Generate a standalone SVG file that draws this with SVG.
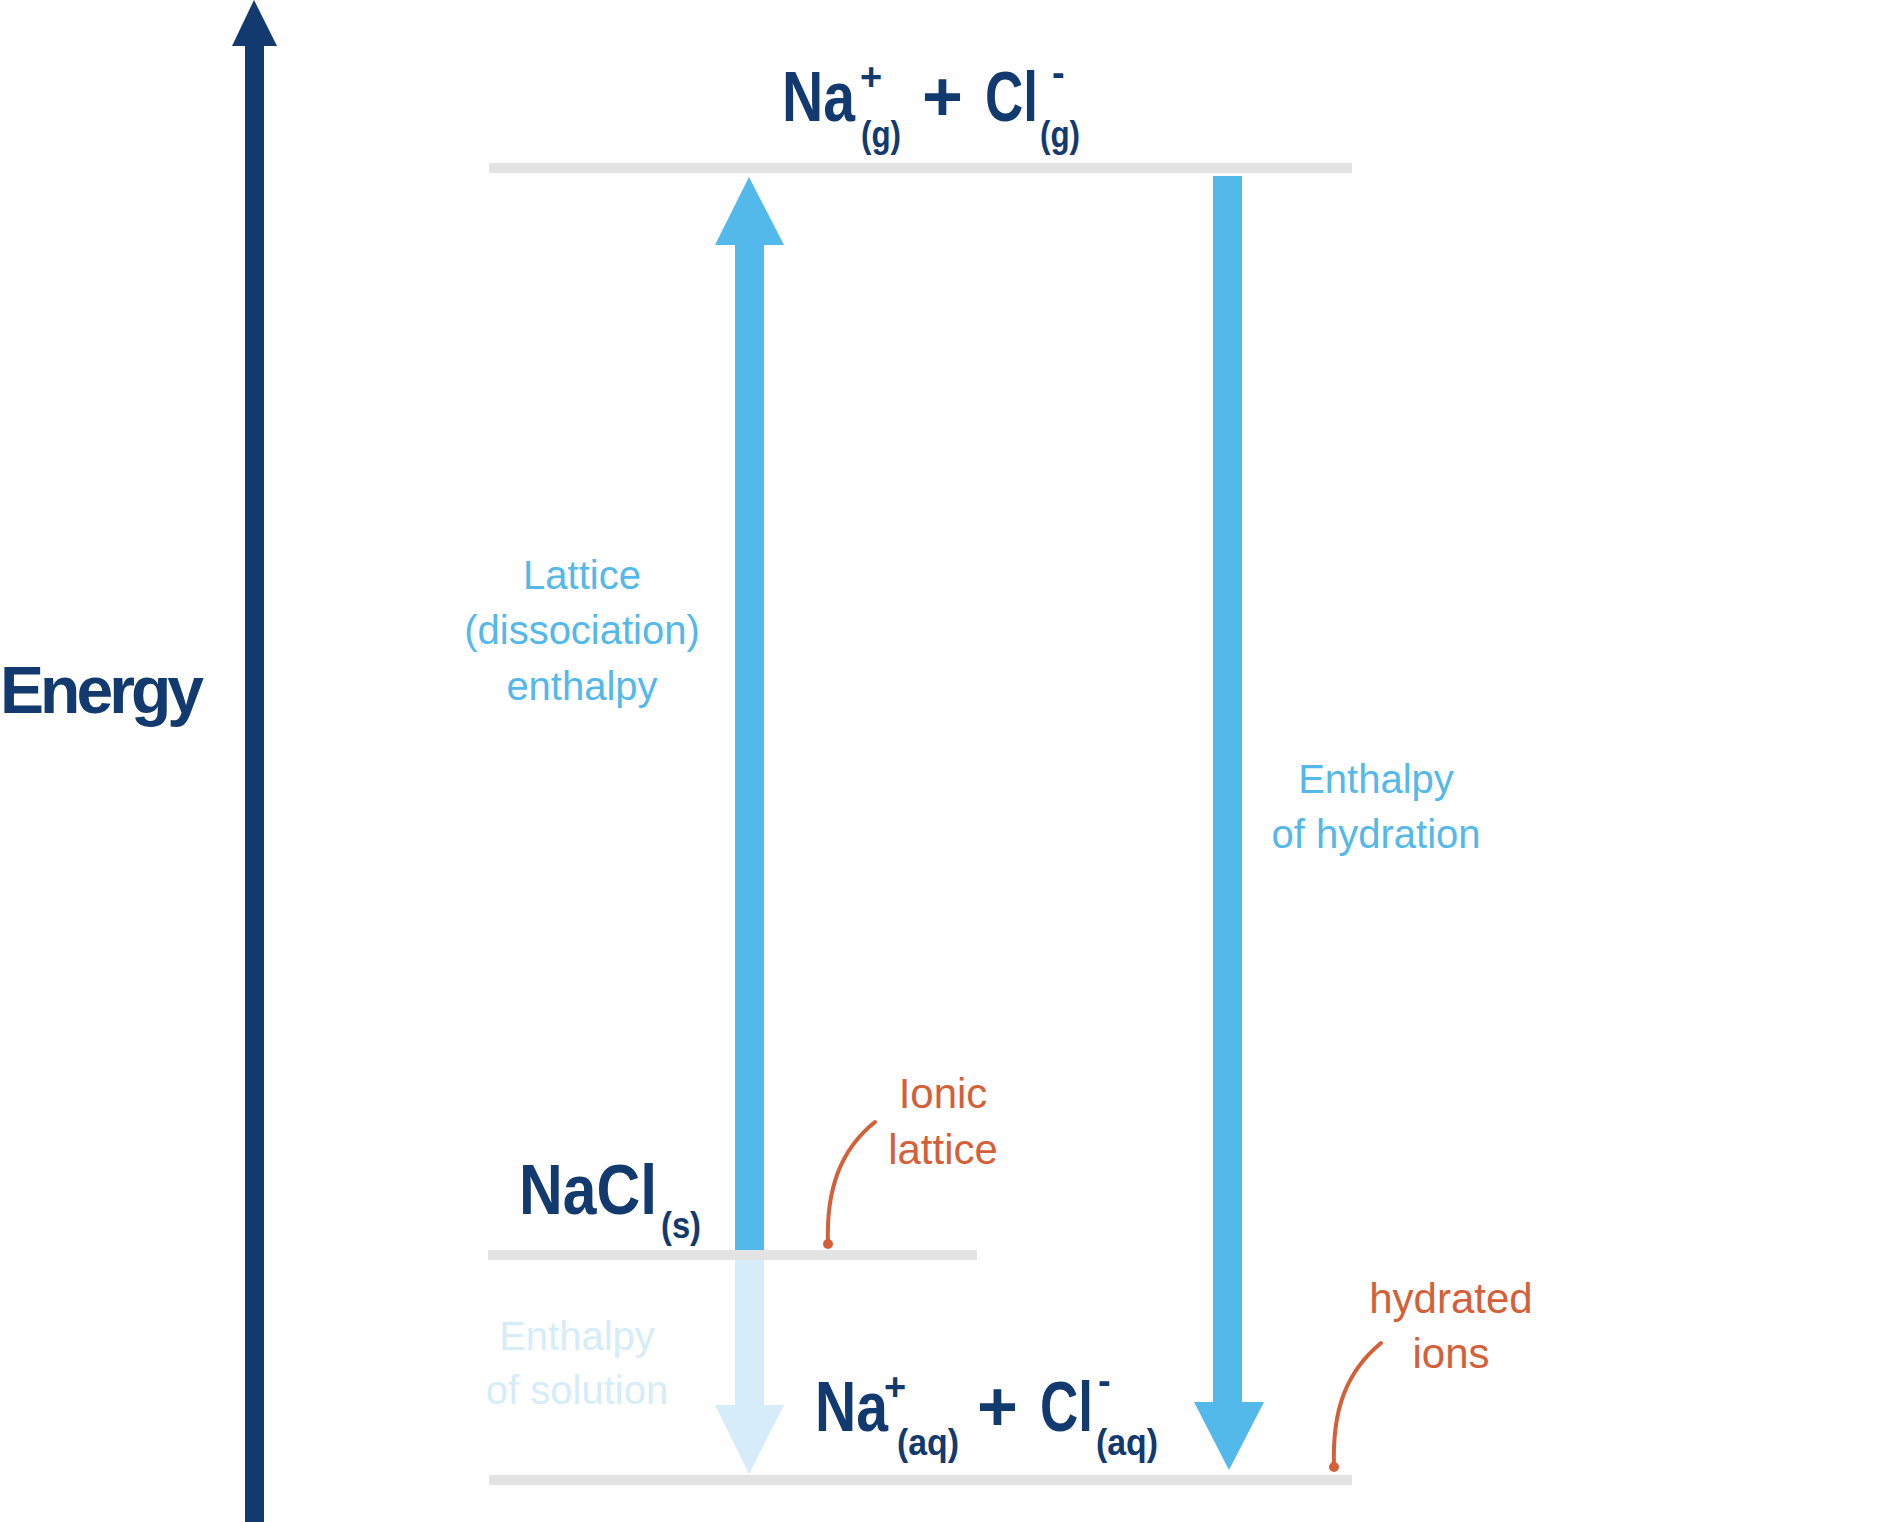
<svg xmlns="http://www.w3.org/2000/svg" width="1885" height="1522" viewBox="0 0 1885 1522">
<style>
.lvl{stroke:#e3e3e3;stroke-width:10}
.dk{fill:#123a6e;font-family:"Liberation Sans Narrow","Liberation Sans",sans-serif;font-weight:bold}
.lb{fill:#54b8ea;font-family:"Liberation Sans Narrow","Liberation Sans",sans-serif;font-size:40px;text-anchor:middle}
.ls{fill:#d6ecf9;font-family:"Liberation Sans Narrow","Liberation Sans",sans-serif;font-size:40px;text-anchor:middle}
.or{fill:#d4603a;font-family:"Liberation Sans Narrow","Liberation Sans",sans-serif;font-size:42px;text-anchor:middle}
.cv{fill:none;stroke:#d4603a;stroke-width:4;stroke-linecap:round}
</style>
<rect width="1885" height="1522" fill="#fff"/>
<g id="energy-axis">
<rect x="245" y="44" width="19" height="1478" fill="#123a6e"/>
<polygon points="254,0 277,46 232,46" fill="#123a6e"/>
<text class="dk" x="0" y="713" font-size="66" textLength="204">Energy</text>
</g>
<g id="level-gas">
<line class="lvl" x1="489" y1="168" x2="1352" y2="168"/>
<text class="dk" x="782" y="121" font-size="70" textLength="73" lengthAdjust="spacingAndGlyphs">Na</text>
<text class="dk" x="860" y="90" font-size="38" font-weight="normal">+</text>
<text class="dk" x="861" y="147" font-size="36" textLength="40" lengthAdjust="spacingAndGlyphs">(g)</text>
<text class="dk" x="922" y="121" font-size="70" font-weight="normal">+</text>
<text class="dk" x="985" y="121" font-size="70" textLength="53" lengthAdjust="spacingAndGlyphs">Cl</text>
<text class="dk" x="1052" y="86" font-size="38">-</text>
<text class="dk" x="1040" y="147" font-size="36" textLength="40" lengthAdjust="spacingAndGlyphs">(g)</text>
</g>
<g id="level-solid">
<line class="lvl" x1="488" y1="1255" x2="977" y2="1255"/>
<text class="dk" x="519" y="1214" font-size="70" textLength="138" lengthAdjust="spacingAndGlyphs">NaCl</text>
<text class="dk" x="661" y="1238" font-size="36" textLength="40" lengthAdjust="spacingAndGlyphs">(s)</text>
</g>
<g id="level-aq">
<line class="lvl" x1="489" y1="1480" x2="1352" y2="1480"/>
<text class="dk" x="815" y="1431" font-size="70" textLength="73" lengthAdjust="spacingAndGlyphs">Na</text>
<text class="dk" x="884" y="1400" font-size="38" font-weight="normal">+</text>
<text class="dk" x="897" y="1455" font-size="36" textLength="62" lengthAdjust="spacingAndGlyphs">(aq)</text>
<text class="dk" x="977" y="1431" font-size="70" font-weight="normal">+</text>
<text class="dk" x="1040" y="1431" font-size="70" textLength="53" lengthAdjust="spacingAndGlyphs">Cl</text>
<text class="dk" x="1098" y="1394" font-size="38">-</text>
<text class="dk" x="1096" y="1455" font-size="36" textLength="62" lengthAdjust="spacingAndGlyphs">(aq)</text>
</g>
<g id="connectors">
<rect x="735" y="240" width="29" height="1010" fill="#53b9ea"/>
<polygon points="749,177 784,245 715,245" fill="#53b9ea"/>
<rect x="1213" y="176" width="29" height="1230" fill="#53b9ea"/>
<polygon points="1194,1402 1264,1402 1229,1470" fill="#53b9ea"/>
<rect x="735" y="1260" width="29" height="148" fill="#d6ecf9"/>
<polygon points="715,1405 784,1405 749,1474" fill="#d6ecf9"/>
<path class="cv" d="M828,1244 C826,1190 840,1150 875,1122"/>
<circle cx="828" cy="1244" r="5" fill="#d4603a"/>
<path class="cv" d="M1334,1467 C1332,1410 1346,1372 1381,1343"/>
<circle cx="1334" cy="1467" r="5" fill="#d4603a"/>
</g>
<g id="labels">
<text class="lb" x="582" y="589">Lattice</text>
<text class="lb" x="582" y="644">(dissociation)</text>
<text class="lb" x="582" y="700">enthalpy</text>
<text class="lb" x="1376" y="793">Enthalpy</text>
<text class="lb" x="1376" y="848">of hydration</text>
<text class="ls" x="577" y="1350">Enthalpy</text>
<text class="ls" x="577" y="1404">of solution</text>
<text class="or" x="943" y="1108">Ionic</text>
<text class="or" x="943" y="1164">lattice</text>
<text class="or" x="1451" y="1313">hydrated</text>
<text class="or" x="1451" y="1368">ions</text>
</g>
</svg>
